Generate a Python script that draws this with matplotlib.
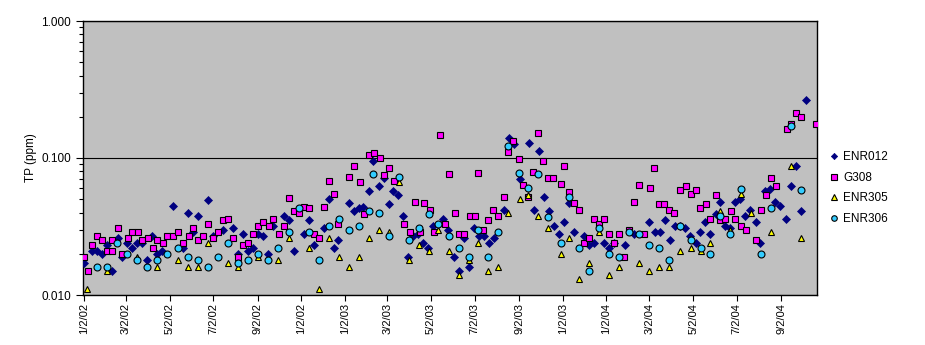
import numpy as np
import pandas as pd
import matplotlib
matplotlib.use("Agg")
import matplotlib.pyplot as plt
import matplotlib.ticker as mticker

plt.rcParams['font.family'] = ['Liberation Sans', 'DejaVu Sans']

start_date = "2002-01-02"

# ---- data: sampling day (days after 1/2/02) and TP (ppm) ----
enr012_days = [0, 12, 19, 26, 33, 40, 48, 54, 61, 68, 75, 82, 89, 96, 103, 110, 124, 138, 145, 152,
               159, 173, 180, 194, 208, 215, 222, 229, 236, 243, 251, 258, 265, 279, 286, 293, 307, 315,
               321, 335, 342, 349, 355, 370, 377, 384, 390, 398, 404, 412, 419, 426, 432, 439, 446, 453,
               460, 467, 474, 481, 488, 502, 509, 517, 524, 531, 538, 545, 552, 559, 566, 573, 587, 594,
               601, 609, 622, 629, 636, 643, 650, 657, 664, 671, 678, 685, 699, 706, 713, 727, 734, 741,
               756, 769, 790, 798, 805, 812, 819, 826, 833, 840, 846, 855, 861, 867, 875, 883, 889, 896,
               903, 910, 917, 924, 931, 939, 945, 952, 959, 966, 973, 981, 987, 995, 1001, 1008]
enr012_tp = [0.017, 0.021, 0.021, 0.020, 0.023, 0.015, 0.026, 0.019, 0.024, 0.022, 0.024, 0.024, 0.018,
             0.027, 0.020, 0.021, 0.045, 0.022, 0.040, 0.029, 0.038, 0.049, 0.027, 0.030, 0.031, 0.020,
             0.028, 0.021, 0.022, 0.028, 0.027, 0.020, 0.032, 0.038, 0.035, 0.021, 0.028, 0.035, 0.023,
             0.031, 0.050, 0.022, 0.025, 0.047, 0.041, 0.043, 0.044, 0.057, 0.095, 0.0625, 0.071, 0.046,
             0.057, 0.054, 0.038, 0.019, 0.027, 0.028, 0.024, 0.022, 0.032, 0.036, 0.030, 0.019, 0.015,
             0.026, 0.016, 0.031, 0.027, 0.027, 0.024, 0.026, 0.042, 0.141, 0.127, 0.070, 0.128, 0.042,
             0.112, 0.052, 0.041, 0.032, 0.028, 0.034, 0.047, 0.029, 0.027, 0.023, 0.024, 0.024, 0.022,
             0.024, 0.023, 0.028, 0.034, 0.029, 0.029, 0.035, 0.025, 0.032, 0.032, 0.031, 0.027, 0.024,
             0.029, 0.034, 0.028, 0.039, 0.048, 0.032, 0.031, 0.048, 0.050, 0.038, 0.042, 0.034, 0.024,
             0.057, 0.059, 0.048, 0.045, 0.036, 0.0625, 0.088, 0.041, 0.265]

g308_days = [0, 6, 12, 19, 26, 33, 40, 40, 48, 54, 62, 68, 76, 82, 90, 97, 103, 111, 117, 124, 131, 139,
             147, 153, 159, 167, 174, 181, 188, 194, 202, 209, 216, 223, 230, 237, 244, 251, 259, 265,
             273, 280, 287, 293, 300, 307, 315, 321, 328, 335, 342, 349, 355, 371, 377, 386, 391, 398,
             405, 414, 420, 427, 433, 447, 455, 462, 469, 475, 483, 489, 497, 504, 510, 518, 524, 531,
             539, 546, 551, 558, 565, 572, 579, 587, 593, 600, 608, 614, 621, 628, 635, 642, 649, 656,
             666, 670, 677, 684, 691, 698, 705, 712, 719, 726, 733, 740, 747, 754, 761, 768, 775, 783,
             791, 796, 804, 811, 818, 825, 832, 841, 848, 855, 861, 869, 875, 883, 889, 896, 904, 910,
             918, 925, 939, 946, 953, 960, 967, 982, 988, 995, 1001, 1022]
g308_tp = [0.019, 0.015, 0.023, 0.027, 0.025, 0.021, 0.021, 0.025, 0.031, 0.020, 0.026, 0.029, 0.029,
           0.025, 0.026, 0.022, 0.025, 0.024, 0.027, 0.027, 0.029, 0.024, 0.027, 0.031, 0.025, 0.027,
           0.033, 0.026, 0.029, 0.035, 0.036, 0.026, 0.019, 0.023, 0.024, 0.028, 0.032, 0.034, 0.032,
           0.036, 0.028, 0.032, 0.051, 0.041, 0.040, 0.044, 0.043, 0.028, 0.026, 0.044, 0.068, 0.055,
           0.033, 0.073, 0.087, 0.067, 0.039, 0.105, 0.109, 0.100, 0.075, 0.084, 0.068, 0.033, 0.029,
           0.048, 0.029, 0.047, 0.042, 0.029, 0.147, 0.033, 0.076, 0.040, 0.028, 0.028, 0.038, 0.038,
           0.078, 0.030, 0.035, 0.042, 0.038, 0.052, 0.110, 0.132, 0.098, 0.064, 0.052, 0.079, 0.153,
           0.095, 0.071, 0.071, 0.065, 0.087, 0.056, 0.047, 0.042, 0.024, 0.026, 0.036, 0.033, 0.036,
           0.028, 0.024, 0.028, 0.019, 0.030, 0.048, 0.063, 0.028, 0.060, 0.085, 0.046, 0.046, 0.042,
           0.040, 0.058, 0.0625, 0.055, 0.058, 0.043, 0.046, 0.036, 0.054, 0.035, 0.036, 0.041, 0.036,
           0.032, 0.030, 0.025, 0.042, 0.054, 0.072, 0.0625, 0.163, 0.177, 0.214, 0.200, 0.177]

enr305_days = [5, 33, 75, 103, 131, 145, 159, 173, 201, 215, 243, 272, 286, 315, 328, 342, 357, 370, 384,
               398, 412, 426, 440, 454, 468, 482, 495, 510, 524, 538, 551, 565, 579, 593, 609, 621, 635,
               649, 666, 677, 691, 705, 719, 733, 747, 775, 790, 804, 818, 832, 848, 862, 875, 889, 903,
               918, 932, 960, 988, 1002]
enr305_tp = [0.011, 0.015, 0.019, 0.016, 0.018, 0.016, 0.016, 0.024, 0.017, 0.016, 0.019, 0.018, 0.026,
             0.022, 0.011, 0.026, 0.019, 0.016, 0.019, 0.026, 0.030, 0.029, 0.067, 0.018, 0.023, 0.021,
             0.030, 0.021, 0.014, 0.018, 0.024, 0.015, 0.016, 0.040, 0.050, 0.054, 0.038, 0.031, 0.020,
             0.026, 0.013, 0.017, 0.029, 0.014, 0.016, 0.017, 0.015, 0.016, 0.016, 0.021, 0.022, 0.021,
             0.024, 0.041, 0.030, 0.055, 0.040, 0.029, 0.088, 0.026]

enr306_days = [19, 33, 47, 61, 75, 89, 103, 117, 131, 145, 159, 173, 187, 201, 215, 229, 243, 258, 272,
               286, 300, 315, 328, 342, 357, 370, 384, 398, 404, 412, 426, 440, 454, 468, 482, 495, 510,
               524, 538, 551, 565, 579, 593, 608, 621, 635, 649, 666, 677, 691, 705, 719, 733, 747, 761,
               775, 790, 804, 818, 832, 848, 862, 875, 889, 903, 918, 946, 960, 988, 1002]
enr306_tp = [0.016, 0.016, 0.024, 0.020, 0.018, 0.016, 0.018, 0.020, 0.022, 0.019, 0.018, 0.016, 0.019,
             0.024, 0.017, 0.018, 0.020, 0.018, 0.022, 0.029, 0.043, 0.029, 0.018, 0.032, 0.036, 0.030,
             0.032, 0.041, 0.076, 0.040, 0.027, 0.073, 0.025, 0.031, 0.039, 0.033, 0.027, 0.022, 0.019,
             0.030, 0.019, 0.029, 0.122, 0.078, 0.060, 0.076, 0.037, 0.024, 0.052, 0.022, 0.015, 0.031,
             0.020, 0.019, 0.029, 0.028, 0.023, 0.022, 0.018, 0.032, 0.025, 0.022, 0.020, 0.038, 0.028,
             0.059, 0.020, 0.043, 0.171, 0.058]

tick_dates = ["2002-01-02", "2002-03-02", "2002-05-02", "2002-07-02", "2002-09-02", "2002-11-02",
              "2003-01-02", "2003-03-02", "2003-05-02", "2003-07-02", "2003-09-02", "2003-11-02",
              "2004-01-02", "2004-03-02", "2004-05-02", "2004-07-02", "2004-09-02"]
tick_labels = ["1/2/02", "3/2/02", "5/2/02", "7/2/02", "9/2/02", "1/2/02",
               "1/2/03", "3/2/03", "5/2/03", "7/2/03", "9/2/03", "1/2/03",
               "1/2/04", "3/2/04", "5/2/04", "7/2/04", "9/2/04"]

base = pd.Timestamp(start_date)
def to_dates(days):
    return base + pd.to_timedelta(np.asarray(days, dtype=float), unit="D")

fig = plt.figure(figsize=(9.25, 3.45), dpi=100)
ax = fig.add_axes([83 / 925, 1 - 295 / 345, (817 - 83) / 925, (295 - 21) / 345])
ax.set_facecolor("#C0C0C0")

ax.plot(to_dates(enr012_days), enr012_tp, linestyle="none", marker="D", ms=4.0,
        mfc="#000080", mec="#000080", mew=0.5, label="ENR012", zorder=3)
ax.plot(to_dates(g308_days), g308_tp, linestyle="none", marker="s", ms=5.0,
        mfc="#FF00FF", mec="black", mew=0.8, label="G308", zorder=4)
ax.plot(to_dates(enr305_days), enr305_tp, linestyle="none", marker="^", ms=5.0,
        mfc="#FFFF00", mec="black", mew=0.8, label="ENR305", zorder=5)
ax.plot(to_dates(enr306_days), enr306_tp, linestyle="none", marker="o", ms=5.0,
        mfc="#33CCFF", mec="black", mew=0.8, label="ENR306", zorder=6)

ax.set_yscale("log")
ax.set_ylim(0.01, 1.0)
ax.yaxis.set_major_locator(mticker.FixedLocator([0.01, 0.1, 1.0]))
ax.yaxis.set_major_formatter(mticker.FixedFormatter(["0.010", "0.100", "1.000"]))
ax.yaxis.set_minor_locator(mticker.LogLocator(base=10, subs=np.arange(2, 10)))
ax.yaxis.set_minor_formatter(mticker.NullFormatter())
ax.yaxis.grid(True, which="major", color="black", linewidth=0.8)
ax.set_axisbelow(True)

ax.set_xlim(base - pd.Timedelta(days=1), base + pd.Timedelta(days=1024))
ax.set_xticks(pd.to_datetime(tick_dates))
ax.set_xticklabels(tick_labels, rotation=90, fontsize=8)
ax.tick_params(axis="x", direction="out", length=4, width=0.8, pad=2)
ax.tick_params(axis="y", which="major", direction="out", length=5, width=0.8, labelsize=8.5)
ax.tick_params(axis="y", which="minor", direction="out", length=3, width=0.8)

for sp in ax.spines.values():
    sp.set_color("black")
    sp.set_linewidth(1.0)

ax.set_ylabel("TP (ppm)", fontsize=8.5, labelpad=3)

ax.legend(loc="center left", bbox_to_anchor=(1.005, 0.39), frameon=False, fontsize=8.5,
          handlelength=0.8, handletextpad=0.4, labelspacing=0.72, borderaxespad=0.3,
          markerscale=0.8)

fig.savefig("out.png", dpi=100)
